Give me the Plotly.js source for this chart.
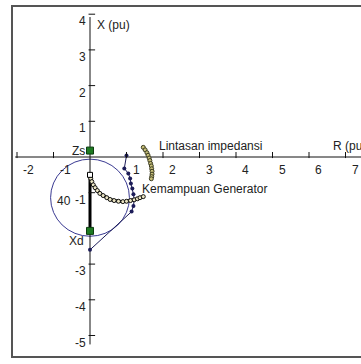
<!DOCTYPE html>
<html>
<head>
<meta charset="utf-8">
<script src="https://cdn.plot.ly/plotly-3.0.1.min.js"></script>
<style>
  html, body { margin: 0; padding: 0; background: #ffffff; }
  #chart { width: 361px; height: 364px; }
</style>
</head>
<body>
<div id="chart"></div>
<script>
// Axis ticks (per-unit)
const xTickVals = [-2, -1, 1, 2, 3, 4, 5, 6, 7];
const yTickVals = [4, 3, 2, 1, -1, -3, -4, -5];
const yTickLabelVals = [4, 3, 2, 1, -1, -3, -4, -5];

// Impedance trajectory (R, X)
const trajR = [0.00, 0.02, 0.05, 0.09, 0.14, 0.20, 0.27, 0.36, 0.46, 0.55, 0.66, 0.78, 0.90, 1.00, 1.11, 1.21, 1.30, 1.37, 1.46];
const trajX = [-0.50, -0.60, -0.69, -0.78, -0.86, -0.94, -1.02, -1.08, -1.14, -1.19, -1.22, -1.24, -1.25, -1.24, -1.22, -1.20, -1.17, -1.14, -1.11];

// "Lintasan impedansi" arc
const arcR = [1.46, 1.51, 1.56, 1.59, 1.62, 1.64, 1.66, 1.68, 1.69, 1.70, 1.70, 1.69, 1.68];
const arcX = [0.27, 0.20, 0.12, 0.05, -0.03, -0.10, -0.18, -0.25, -0.33, -0.40, -0.48, -0.55, -0.61];

// Generator capability limit
const capR = [1.00, 0.94, 1.05, 1.10, 1.12, 1.16, 1.19, 1.21, 1.19, 1.14, 0.00];
const capX = [0.04, -0.32, -0.46, -0.60, -0.74, -0.88, -1.04, -1.20, -1.37, -1.53, -2.60];

// Loss-of-excitation circle
const circleCenter = [0.0, -1.14];
const circleRadius = 1.08;

// Machine reactances
const zsPoint = [0.0, 0.18];
const xdPoint = [0.0, -2.07];
const startPoint = [0.0, -0.50];

// Axis extents
const xAxisSpan = [-2.05, 8.0];
const yAxisSpan = [-5.25, 3.92];

const txtFont = { family: 'Liberation Sans, Arial, sans-serif', size: 12, color: '#222222' };
const axisColor = '#111111';

const traces = [
  // axes
  { x: xAxisSpan, y: [0, 0], mode: 'lines', line: { color: axisColor, width: 1 }, hoverinfo: 'skip' },
  { x: [0, 0], y: yAxisSpan, mode: 'lines', line: { color: axisColor, width: 1 }, hoverinfo: 'skip' },
  // Zs to Xd reactance segment
  { x: [startPoint[0], xdPoint[0]], y: [startPoint[1], xdPoint[1]], mode: 'lines',
    line: { color: '#000000', width: 3 }, hoverinfo: 'skip' },
  // generator capability
  { x: capR, y: capX, mode: 'lines+markers', line: { color: '#1c1c58', width: 1 },
    marker: { size: 4, color: '#1c1c58' }, hoverinfo: 'skip' },
  // impedance arc
  { x: arcR, y: arcX, mode: 'markers',
    marker: { size: 4, color: '#c8c07a', line: { color: '#3a3a20', width: 1 } }, hoverinfo: 'skip' },
  // impedance trajectory
  { x: trajR, y: trajX, mode: 'lines+markers', line: { color: '#000000', width: 3 },
    marker: { size: 4, color: '#ece6c4', line: { color: '#111111', width: 1 } }, hoverinfo: 'skip' },
  // start marker
  { x: [startPoint[0]], y: [startPoint[1]], mode: 'markers',
    marker: { symbol: 'square', size: 5, color: '#ffffff', line: { color: '#000000', width: 1 } }, hoverinfo: 'skip' },
  // Zs and Xd markers
  { x: [zsPoint[0], xdPoint[0]], y: [zsPoint[1], xdPoint[1]], mode: 'markers',
    marker: { symbol: 'square', size: 7, color: '#1e7a22', line: { color: '#0d3d10', width: 1 } }, hoverinfo: 'skip' }
];

const shapes = [];
// frame
shapes.push({ type: 'rect', xref: 'paper', yref: 'paper',
  x0: 12 / 361, x1: 1.02, y0: 1 - 357 / 364, y1: 1 - 6 / 364,
  line: { color: '#555555', width: 2 }, fillcolor: 'rgba(0,0,0,0)' });
// circle
shapes.push({ type: 'circle', xref: 'x', yref: 'y',
  x0: circleCenter[0] - circleRadius, x1: circleCenter[0] + circleRadius,
  y0: circleCenter[1] - circleRadius, y1: circleCenter[1] + circleRadius,
  line: { color: '#3a3a92', width: 1 }, layer: 'below' });
// tick marks
xTickVals.forEach(v => shapes.push({ type: 'line', xref: 'x', yref: 'y',
  x0: v, x1: v, y0: -0.03, y1: 0.14, line: { color: axisColor, width: 1 } }));
yTickVals.forEach(v => shapes.push({ type: 'line', xref: 'x', yref: 'y',
  x0: -0.04, x1: 0.14, y0: v, y1: v, line: { color: axisColor, width: 1 } }));

const annotations = [];
xTickVals.forEach(v => annotations.push({ x: v, y: 0, text: String(v), showarrow: false,
  xanchor: 'left', yanchor: 'middle', xshift: 4, yshift: -13, font: txtFont }));
yTickLabelVals.forEach(v => annotations.push({ x: 0, y: v, text: String(v), showarrow: false,
  xanchor: 'right', yanchor: 'middle', xshift: -2, yshift: -7, font: txtFont }));

const labels = [
  { x: 0.137, y: 3.70, text: 'X (pu)', xanchor: 'left' },
  { x: 6.60, y: 0.31, text: 'R (pu)', xanchor: 'left' },
  { x: 1.836, y: 0.31, text: 'Lintasan impedansi', xanchor: 'left' },
  { x: 1.37, y: -0.90, text: 'Kemampuan Generator', xanchor: 'left' },
  { x: -0.08, y: 0.18, text: 'Zs', xanchor: 'right' },
  { x: -0.11, y: -2.35, text: 'Xd', xanchor: 'right' },
  { x: -0.71, y: -1.23, text: '40', xanchor: 'center' }
];
labels.forEach(l => annotations.push({ x: l.x, y: l.y, text: l.text, showarrow: false,
  xanchor: l.xanchor, yanchor: 'middle', font: txtFont }));

const layout = {
  width: 361, height: 364,
  margin: { l: 0, r: 0, t: 0, b: 0 },
  paper_bgcolor: '#ffffff', plot_bgcolor: '#ffffff',
  showlegend: false,
  xaxis: { range: [-90 / 36.5, 271 / 36.5], visible: false, fixedrange: true },
  yaxis: { range: [(157 - 364) / 35.7, 157 / 35.7], visible: false, fixedrange: true },
  shapes: shapes,
  annotations: annotations
};

Plotly.newPlot('chart', traces, layout, { displayModeBar: false, staticPlot: true });
</script>
</body>
</html>
